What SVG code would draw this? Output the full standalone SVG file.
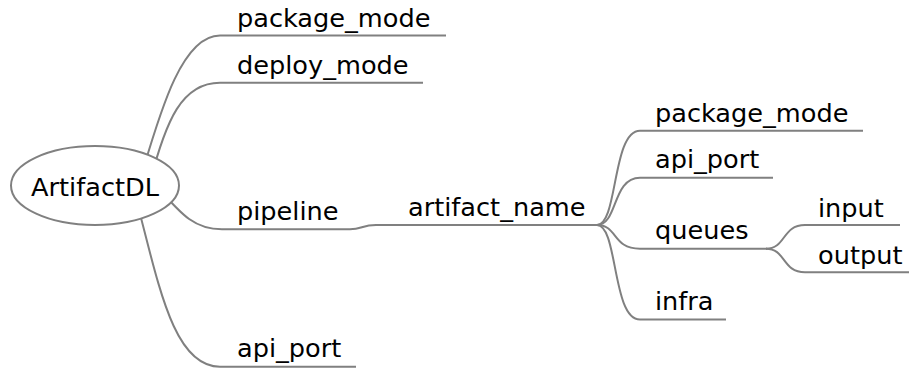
<svg xmlns="http://www.w3.org/2000/svg" width="909" height="368" viewBox="0 0 909 368">
  <style>
    .link { fill: none; stroke: #808080; stroke-width: 2; }
    .root { fill: #ffffff; stroke: #808080; stroke-width: 2; }
    text { font-family: "DejaVu Sans", "Noto Sans", sans-serif; font-size: 25.6px; fill: #000000; }
  </style>
  <rect width="909" height="368" fill="#ffffff"/>

  <g id="connectors">
    <!-- root branches -->
    <path class="link" d="M140,180 C158,120 180,35.5 220,35.5 L446,35.5"/>
    <path class="link" d="M150,182 C166,120 182,82.7 220,82.7 L423,82.7"/>
    <path class="link" d="M160,190 C182,215 195,229.3 222,229.3 L350,229.3"/>
    <path class="link" d="M135,195 C158,280 172,366.7 220,366.7 L356,366.7"/>
    <!-- pipeline -> artifact_name -->
    <path class="link" d="M350,229.3 C362,229.3 362,225 376,225 L597,225"/>
    <!-- artifact_name children -->
    <path class="link" d="M597,225 C618,225 612,130.7 640,130.7 L863,130.7"/>
    <path class="link" d="M597,225 C618,225 612,177.7 640,177.7 L773,177.7"/>
    <path class="link" d="M597,225 C618,225 612,248.7 640,248.7 L767,248.7"/>
    <path class="link" d="M597,225 C618,225 612,319.5 640,319.5 L726,319.5"/>
    <!-- queues children -->
    <path class="link" d="M766,248.7 C786,248.7 782,225 805,225 L900,225"/>
    <path class="link" d="M766,248.7 C786,248.7 782,272.3 805,272.3 L909,272.3"/>
  </g>

  <g id="node-root">
    <ellipse class="root" cx="95" cy="185.5" rx="84" ry="39.5"/>
    <text x="95" y="196" text-anchor="middle">ArtifactDL</text>
  </g>
  <g id="node-package-mode"><text x="237" y="27">package_mode</text></g>
  <g id="node-deploy-mode"><text x="237" y="74">deploy_mode</text></g>
  <g id="node-pipeline"><text x="237" y="220">pipeline</text></g>
  <g id="node-api-port"><text x="237" y="357">api_port</text></g>
  <g id="node-artifact-name"><text x="408" y="216">artifact_name</text></g>
  <g id="node-an-package-mode"><text x="655" y="122">package_mode</text></g>
  <g id="node-an-api-port"><text x="655" y="168">api_port</text></g>
  <g id="node-queues"><text x="655" y="239">queues</text></g>
  <g id="node-infra"><text x="655" y="310">infra</text></g>
  <g id="node-input"><text x="818" y="217">input</text></g>
  <g id="node-output"><text x="818" y="264">output</text></g>
</svg>
